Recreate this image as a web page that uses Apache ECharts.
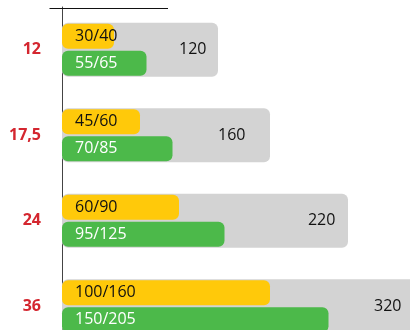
<!DOCTYPE html>
<html>
<head>
<meta charset="utf-8">
<script src="https://cdn.jsdelivr.net/npm/echarts@6/dist/echarts.min.js"></script>
<style>
  html, body { margin: 0; padding: 0; background: #ffffff; overflow: hidden; }
  /* The chart runs past the right and bottom edges of the window */
  #chart { width: 480px; height: 380px; }
</style>
</head>
<body>
<div id="chart"></div>
<script>
// Categories (row labels)
var categories = ['12', '17,5', '24', '36'];

// Grey background bars: total value
var totals = [120, 160, 220, 320];

// Yellow bars: lower / upper value
var yellowLow = [30, 45, 60, 100];
var yellowHigh = [40, 60, 90, 160];

// Green bars: lower / upper value
var greenLow = [55, 70, 95, 150];
var greenHigh = [65, 85, 125, 205];

var FONT = '"Open Sans", "Noto Sans", sans-serif';

// Grey bars carry their total near the right end; the third one sits a little further out
var totalData = totals.map(function (v, i) {
  if (i === 2) {
    return { value: v, label: { position: ['86%', '50%'] } };
  }
  return v;
});

var chart = echarts.init(document.getElementById('chart'), null, { renderer: 'canvas' });

chart.setOption({
  animation: false,
  backgroundColor: '#ffffff',
  grid: { left: 62, top: 7, width: 416, height: 342, containLabel: false },
  xAxis: {
    type: 'value',
    min: 0,
    max: 320,
    show: false
  },
  yAxis: [
    {
      type: 'category',
      data: categories,
      inverse: true,
      offset: 12,
      axisLine: { show: true, lineStyle: { color: '#444444', width: 1 } },
      axisTick: { show: false },
      axisLabel: {
        margin: 9,
        color: '#d4262f',
        fontFamily: FONT,
        fontWeight: 'bold',
        fontSize: 16
      },
      splitLine: { show: false }
    },
    {
      type: 'category',
      data: categories,
      inverse: true,
      show: false
    }
  ],
  graphic: [
    {
      type: 'line',
      shape: { x1: 49.5, y1: 8.5, x2: 168, y2: 8.5 },
      style: { stroke: '#111111', lineWidth: 1 },
      z: 10
    }
  ],
  series: [
    {
      name: 'total',
      type: 'bar',
      yAxisIndex: 1,
      data: totalData,
      barWidth: 54,
      z: 1,
      itemStyle: { color: '#d3d3d3', borderRadius: 6 },
      label: {
        show: true,
        position: ['75%', '50%'],
        align: 'left',
        verticalAlign: 'middle',
        color: '#111111',
        fontFamily: FONT,
        fontSize: 16,
        formatter: '{c}'
      }
    },
    {
      name: 'yellow',
      type: 'bar',
      yAxisIndex: 0,
      data: yellowHigh,
      barWidth: 25,
      barGap: '8%',
      z: 3,
      itemStyle: { color: '#ffc90a', borderRadius: 6 },
      label: {
        show: true,
        position: 'insideLeft',
        distance: 13,
        color: '#111111',
        fontFamily: FONT,
        fontSize: 16,
        formatter: function (p) { return yellowLow[p.dataIndex] + '/' + yellowHigh[p.dataIndex]; }
      }
    },
    {
      name: 'green',
      type: 'bar',
      yAxisIndex: 0,
      data: greenHigh,
      barWidth: 25,
      barGap: '8%',
      z: 3,
      itemStyle: { color: '#4cb94a', borderRadius: 6 },
      label: {
        show: true,
        position: 'insideLeft',
        distance: 13,
        color: '#ffffff',
        fontFamily: FONT,
        fontSize: 16,
        formatter: function (p) { return greenLow[p.dataIndex] + '/' + greenHigh[p.dataIndex]; }
      }
    }
  ]
});
</script>
</body>
</html>
